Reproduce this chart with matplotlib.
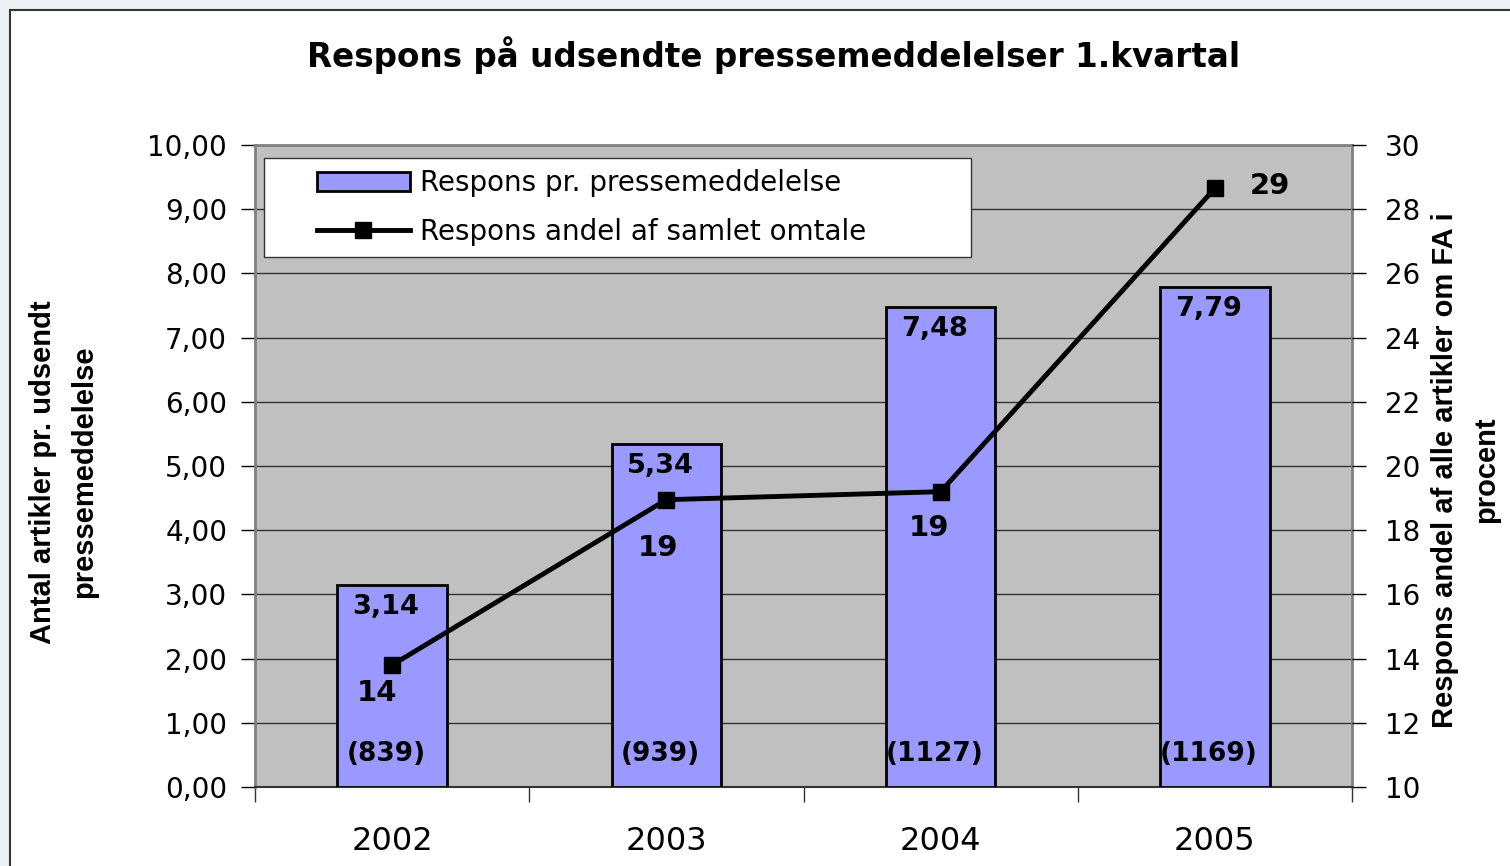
import matplotlib
matplotlib.use("Agg")
import matplotlib.pyplot as plt
from matplotlib.patches import Rectangle
from matplotlib.lines import Line2D
from matplotlib.legend_handler import HandlerPatch, HandlerLine2D
import numpy as np

plt.rcParams['font.family'] = ['DejaVu Sans']
axfont = ['Liberation Sans', 'DejaVu Sans']

years = ['2002', '2003', '2004', '2005']
respons_pr = [3.14, 5.34, 7.48, 7.79]
andel = [13.8, 18.95, 19.2, 28.65]
andel_labels = ['14', '19', '19', '29']
antal = ['(839)', '(939)', '(1127)', '(1169)']

fig = plt.figure(figsize=(15.1, 8.66), dpi=100)
fig.patch.set_facecolor('#ECEFF4')
# white chart frame
fig.patches.append(Rectangle((10/1510, -0.1), 1.2, 1.1 - 10/866, transform=fig.transFigure,
                             facecolor='white', edgecolor='#333333', linewidth=1.5, zorder=-10))

ax = fig.add_axes([255/1510, 1 - 787/866, 1097/1510, 642/866])
ax.set_facecolor('#C0C0C0')
x = np.arange(len(years))

bars = ax.bar(x, respons_pr, width=0.40, color='#9999FF', edgecolor='black',
              linewidth=2, zorder=3, label='Respons pr. pressemeddelelse')
ax.set_xlim(-0.5, 3.5)
ax.set_ylim(0, 10)
ax.set_yticks(np.arange(0, 10.01, 1))
ax.set_yticklabels(['%d,00' % v for v in range(11)])
ax.grid(axis='y', color='#333333', linewidth=1, zorder=1)
ax.set_axisbelow(True)
ax.tick_params(axis='y', labelsize=20, length=10, width=1, pad=10, direction='out')
ax.set_xticks(x)
ax.set_xticklabels(years)
ax.tick_params(axis='x', which='major', length=0, labelsize=23, pad=28)
ax.set_xticks(np.arange(-0.5, 3.6, 1), minor=True)
ax.tick_params(axis='x', which='minor', length=11, width=1, color='#333333')
for s in ['top', 'right', 'left']:
    ax.spines[s].set_color('#808080')
    ax.spines[s].set_linewidth(2)
ax.spines['bottom'].set_color('#333333')
ax.spines['bottom'].set_linewidth(1.5)

for xi, v, n in zip(x, respons_pr, antal):
    ax.annotate(('%.2f' % v).replace('.', ','), (xi, v), xytext=(-6, -22),
                textcoords='offset pixels', ha='center', va='center',
                fontsize=19.5, fontweight='bold', zorder=5)
    ax.annotate(n, (xi, 0), xytext=(-6, 33), textcoords='offset pixels',
                ha='center', va='center', fontsize=19, fontweight='bold', zorder=5)

ax2 = ax.twinx()
ax2.set_ylim(10, 30)
ax2.set_yticks(np.arange(10, 30.1, 2))
ax2.tick_params(axis='y', labelsize=20, length=10, width=1, pad=14, direction='out')
for s in ax2.spines.values():
    s.set_visible(False)
line, = ax2.plot(x, andel, color='black', linewidth=3.5, marker='s', markersize=11,
                 zorder=4, label='Respons andel af samlet omtale')

offsets = [(-15, -28), (-8, -48), (-12, -36), (55, 2)]
for xi, v, lab, off in zip(x, andel, andel_labels, offsets):
    ax2.annotate(lab, (xi, v), xytext=off, textcoords='offset pixels',
                 ha='center', va='center', fontsize=21, fontweight='bold')

ax.set_ylabel('Antal artikler pr. udsendt\npressemeddelelse', fontsize=21,
              fontweight='bold', family=axfont, linespacing=1.6)
ax.yaxis.set_label_coords((64 - 255) / 1097, (787 - 472) / 642)
ax.yaxis.label.set_va('center')
ax2.set_ylabel('Respons andel af alle artikler om FA i\nprocent', fontsize=21,
               fontweight='bold', family=axfont, rotation=90, linespacing=1.6)
ax2.yaxis.set_label_coords((1466 - 255) / 1097, (787 - 470) / 642)
ax2.yaxis.label.set_va('center')

leg = ax.legend([bars.patches[0], line],
                ['Respons pr. pressemeddelelse', 'Respons andel af samlet omtale'],
                handler_map={Rectangle: HandlerPatch(xpad=1.48),
                             Line2D: HandlerLine2D(xpad=1.48)},
                loc='upper left', bbox_to_anchor=(9/1097, 0.98, 707/1097, 0.0), mode='expand',
                fontsize=20, frameon=True, fancybox=False, edgecolor='#333333',
                facecolor='white', framealpha=1, handlelength=4.86, handletextpad=0.33,
                borderpad=0.41, labelspacing=0.74, borderaxespad=0)
leg.get_frame().set_linewidth(1)
leg.set_zorder(10)

fig.text(0.512, 1 - 55/866, 'Respons på udsendte pressemeddelelser 1.kvartal',
         ha='center', va='center', fontsize=23.5, fontweight='bold')

fig.savefig('out.png', dpi=100, facecolor=fig.get_facecolor())
